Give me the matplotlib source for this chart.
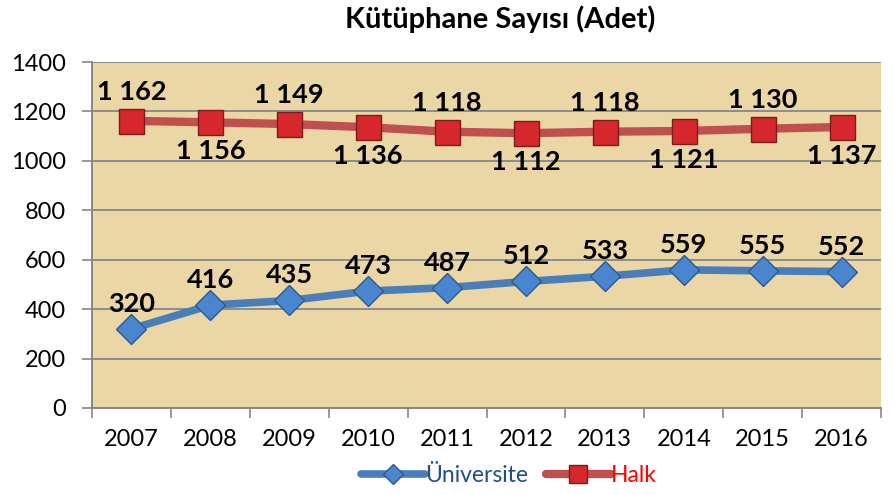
import matplotlib
matplotlib.use("Agg")
import matplotlib.pyplot as plt
from matplotlib.ticker import FixedLocator

plt.rcParams["font.family"] = ["Lato", "DejaVu Sans"]

years = ["2007", "2008", "2009", "2010", "2011", "2012", "2013", "2014", "2015", "2016"]
universite = [320, 416, 435, 473, 487, 512, 533, 559, 555, 552]
halk = [1162, 1156, 1149, 1136, 1118, 1112, 1118, 1121, 1130, 1137]
# Halk labels alternate above / below the markers
halk_above = [True, False, True, False, True, False, True, False, True, False]

fig = plt.figure(figsize=(8.94, 4.95), dpi=100)
ax = fig.add_axes([0.1029, 0.1758, 0.8826, 0.6989])
ax.set_facecolor("#EBD7A6")

x = list(range(1, len(years) + 1))

ax.plot(x, universite, color="#4A7EBB", lw=5.5, solid_capstyle="round",
        marker="D", markersize=15, markerfacecolor="#4A86D0",
        markeredgecolor="#2C5A8E", markeredgewidth=1.0, label="Üniversite", zorder=3)
ax.plot(x, halk, color="#C0504D", lw=6, solid_capstyle="round",
        marker="s", markersize=18, markerfacecolor="#D6282C",
        markeredgecolor="#7A1C1C", markeredgewidth=1.0, label="Halk", zorder=3)

for xi, v in zip(x, universite):
    ax.annotate(str(v), (xi, v), xytext=(0, 18), textcoords="offset points",
                ha="center", va="center", fontsize=19.5, fontweight="bold", zorder=4)

for xi, v, up in zip(x, halk, halk_above):
    txt = "{} {:03d}".format(v // 1000, v % 1000)
    ax.annotate(txt, (xi, v), xytext=(0, 21 if up else -21), textcoords="offset points",
                ha="center", va="center", fontsize=19.5, fontweight="bold", zorder=4)

ax.set_xlim(0.5, len(years) + 0.5)
ax.set_ylim(0, 1400)
ax.set_yticks(range(0, 1401, 200))
ax.set_xticks(x)
ax.set_xticklabels(years)
ax.xaxis.set_minor_locator(FixedLocator([i + 0.5 for i in range(0, len(years) + 1)]))
ax.tick_params(axis="x", which="major", length=0, pad=15, labelsize=17)
ax.tick_params(axis="x", which="minor", length=7, color="#868686", width=1.2)
ax.tick_params(axis="y", length=7, color="#868686", width=1.2, pad=12, labelsize=17)

ax.grid(axis="y", color="#8C8C8C", lw=1.4)
ax.set_axisbelow(True)
for s in ["top", "right"]:
    ax.spines[s].set_visible(False)
for s in ["left", "bottom"]:
    ax.spines[s].set_color("#868686")
    ax.spines[s].set_linewidth(1.4)

fig.suptitle("Kütüphane Sayısı (Adet)", x=0.56, y=0.99, fontsize=21, fontweight="bold")

leg = fig.legend(loc="center", bbox_to_anchor=(0.569, 0.04), ncol=2, frameon=False,
                 fontsize=16.5, handlelength=2.8, handletextpad=0.0, columnspacing=0.8,
                 markerscale=0.7)
for t, c in zip(leg.get_texts(), ["#1F4E89", "#FF0000"]):
    t.set_color(c)

fig.savefig("out.png", dpi=100)
